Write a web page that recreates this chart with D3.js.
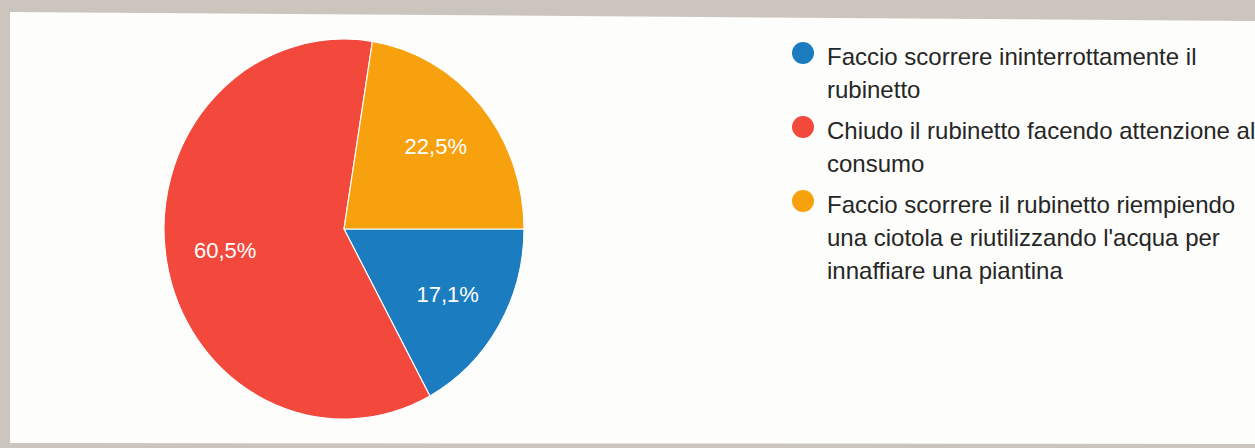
<!DOCTYPE html>
<html>
<head>
<meta charset="utf-8">
<script src="https://cdn.jsdelivr.net/npm/d3@7"></script>
<style>
  html, body { margin: 0; padding: 0; background: #cbc5be; }
  svg { display: block; }
</style>
</head>
<body>
<svg id="chart" width="1255" height="448"></svg>
<script>
// ---- Data ----
const categories = [
  "Faccio scorrere ininterrottamente il rubinetto",
  "Chiudo il rubinetto facendo attenzione al consumo",
  "Faccio scorrere il rubinetto riempiendo una ciotola e riutilizzando l'acqua per innaffiare una piantina"
];
const legendLines = [
  ["Faccio scorrere ininterrottamente il", "rubinetto"],
  ["Chiudo il rubinetto facendo attenzione al", "consumo"],
  ["Faccio scorrere il rubinetto riempiendo", "una ciotola e riutilizzando l'acqua per", "innaffiare una piantina"]
];
const values = [17.1, 60.5, 22.5];
const labels = ["17,1%", "60,5%", "22,5%"];
const colors = ["#1b7dc0", "#f2493c", "#f7a10e"];

// ---- Layout ----
const svg = d3.select("#chart");
const W = 1255, H = 448;

// photo-like frame background + white panel
svg.append("rect").attr("width", W).attr("height", H).attr("fill", "#cbc5be");
svg.append("polygon")
  .attr("points", "10,12 1255,21 1255,444 10,443")
  .attr("fill", "#fdfdfb");

const cx = 344, cy = 229, R = 190, sx = 180 / 190;

const pie = d3.pie().sort(null).value(d => d)
  .startAngle(Math.PI / 2).endAngle(Math.PI / 2 + 2 * Math.PI);
const arcs = pie(values);
const arc = d3.arc().innerRadius(0).outerRadius(R);
const labelArc = d3.arc().innerRadius(R * 0.67).outerRadius(R * 0.67);

const g = svg.append("g").attr("transform", `translate(${cx},${cy}) scale(${sx},1)`);
g.selectAll("path").data(arcs).enter().append("path")
  .attr("d", arc)
  .attr("fill", (d, i) => colors[i])
  .attr("stroke", "#ffffff")
  .attr("stroke-width", 1.2);

svg.append("g").selectAll("text").data(arcs).enter().append("text")
  .attr("x", d => cx + labelArc.centroid(d)[0] * sx)
  .attr("y", d => cy + labelArc.centroid(d)[1])
  .attr("text-anchor", "middle")
  .attr("dominant-baseline", "central")
  .attr("fill", "#ffffff")
  .attr("font-family", "'Liberation Sans', Arial, sans-serif")
  .attr("font-size", 22)
  .text((d, i) => labels[i]);

// ---- Legend ----
const legX = 803, textX = 827, firstBaseline = 65, lineH = 33, itemGap = 41;
const legend = svg.append("g");
let y = firstBaseline;
legendLines.forEach((lines, i) => {
  legend.append("circle")
    .attr("cx", legX).attr("cy", y - 12).attr("r", 11)
    .attr("fill", colors[i]);
  const t = legend.append("text")
    .attr("font-family", "'Liberation Sans', Arial, sans-serif")
    .attr("font-size", 24)
    .attr("fill", "#262626");
  lines.forEach((ln, j) => {
    t.append("tspan").attr("x", textX).attr("y", y + j * lineH).text(ln);
  });
  y += (lines.length - 1) * lineH + itemGap;
});
</script>
</body>
</html>
